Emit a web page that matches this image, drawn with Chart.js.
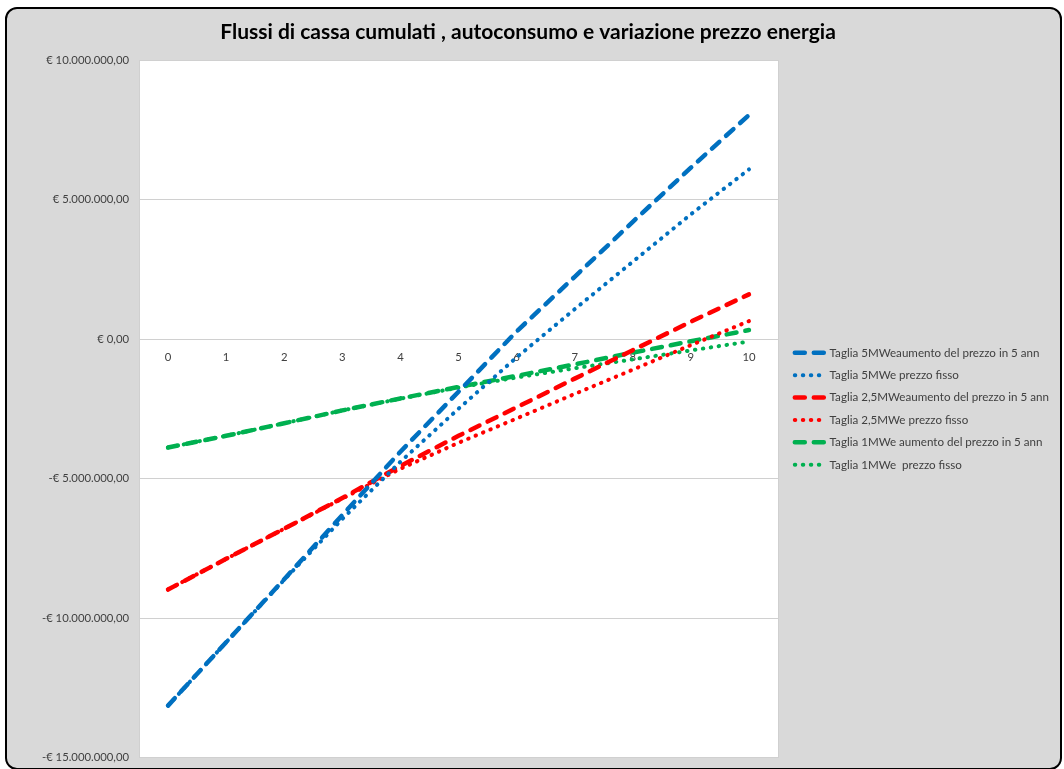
<!DOCTYPE html>
<html lang="it">
<head>
<meta charset="utf-8">
<title>Flussi di cassa cumulati</title>
<script src="https://cdn.jsdelivr.net/npm/chart.js@4/dist/chart.umd.min.js"></script>
<style>
  html, body { margin: 0; padding: 0; background: #ffffff; }
  #frame {
    position: absolute;
    left: 5px;
    top: 7px;
    width: 1053px;
    height: 759px;
    border: 2px solid #000000;
    border-radius: 12px;
    background: #d9d9d9;
    overflow: hidden;
  }
  #chart { display: block; }
</style>
</head>
<body>
<div id="frame"><canvas id="chart" width="1053" height="759"></canvas></div>
<script>
// Anni di esercizio
const anni = ['0', '1', '2', '3', '4', '5', '6', '7', '8', '9', '10'];

// Flussi di cassa cumulati (€)
const taglia5Aumento = [-13140000, -10870000, -8610000, -6310000, -4040000, -1890000, 270000, 2230000, 4200000, 6140000, 8030000];
const taglia5Fisso = [-13140000, -10870000, -8630000, -6450000, -4400000, -2500000, -660000, 1070000, 2770000, 4470000, 6080000];
const taglia25Aumento = [-8980000, -7880000, -6800000, -5700000, -4550000, -3470000, -2450000, -1420000, -400000, 620000, 1600000];
const taglia25Fisso = [-8980000, -7880000, -6800000, -5720000, -4650000, -3720000, -2850000, -1970000, -1100000, -220000, 640000];
const taglia1Aumento = [-3890000, -3470000, -3020000, -2560000, -2130000, -1720000, -1320000, -910000, -490000, -80000, 320000];
const taglia1Fisso = [-3890000, -3470000, -3020000, -2560000, -2140000, -1740000, -1380000, -1050000, -730000, -410000, -90000];

// Etichette dell'asse verticale
const yTickValues = [-15000000, -10000000, -5000000, 0, 5000000, 10000000];
const yTickLabels = ['-€ 15.000.000,00', '-€ 10.000.000,00', '-€ 5.000.000,00', '€ 0,00', '€ 5.000.000,00', '€ 10.000.000,00'];

const BLU = '#0070c0';
const ROSSO = '#ff0000';
const VERDE = '#00b050';
const TRATTEGGIO = [10, 9];
const PUNTINI = [0.5, 7.5];

function serie(label, data, color, dash, width) {
  return {
    label: label,
    data: data,
    borderColor: color,
    backgroundColor: color,
    borderWidth: width,
    borderDash: dash,
    borderCapStyle: 'round',
    pointRadius: 0,
    pointHoverRadius: 0,
    tension: 0,
    fill: false,
    yAxisID: 'y'
  };
}

// Sfondo bianco dell'area del grafico
const areaBianca = {
  id: 'areaBianca',
  beforeDraw(chart) {
    const { ctx, chartArea } = chart;
    ctx.save();
    ctx.fillStyle = '#ffffff';
    ctx.fillRect(chartArea.left, chartArea.top, chartArea.right - chartArea.left, chartArea.bottom - chartArea.top);
    ctx.restore();
  }
};

// Voci di legenda con lo stesso tratto delle linee
function vociLegenda(chart) {
  const voci = Chart.defaults.plugins.legend.labels.generateLabels(chart);
  voci.forEach(v => {
    const ds = chart.data.datasets[v.datasetIndex];
    v.lineDash = ds.borderDash;
    v.lineCap = 'round';
    v.lineWidth = ds.borderWidth;
    v.strokeStyle = ds.borderColor;
    v.fillStyle = ds.borderColor;
  });
  return voci;
}

Chart.defaults.font.family = 'Lato, "Liberation Sans", sans-serif';
Chart.defaults.color = '#404040';

new Chart(document.getElementById('chart'), {
  type: 'line',
  data: {
    labels: anni,
    datasets: [
      serie('Taglia 5MWeaumento del prezzo in 5 ann', taglia5Aumento, BLU, TRATTEGGIO, 4.5),
      serie('Taglia 5MWe prezzo fisso', taglia5Fisso, BLU, PUNTINI, 4),
      serie('Taglia 2,5MWeaumento del prezzo in 5 ann', taglia25Aumento, ROSSO, TRATTEGGIO, 4.5),
      serie('Taglia 2,5MWe prezzo fisso', taglia25Fisso, ROSSO, PUNTINI, 4),
      serie('Taglia 1MWe aumento del prezzo in 5 ann', taglia1Aumento, VERDE, TRATTEGGIO, 4.5),
      serie('Taglia 1MWe  prezzo fisso', taglia1Fisso, VERDE, PUNTINI, 4)
    ]
  },
  options: {
    responsive: false,
    animation: false,
    layout: { padding: { left: 0, right: 11, top: 0, bottom: 10.5 } },
    plugins: {
      title: {
        display: true,
        text: 'Flussi di cassa cumulati , autoconsumo e variazione prezzo energia',
        color: '#000000',
        font: { size: 21, weight: 'bold' },
        padding: { top: 10.8, bottom: 15.0 }
      },
      legend: {
        position: 'right',
        fullSize: false,
        maxWidth: 265,
        labels: {
          usePointStyle: true,
          pointStyle: 'line',
          pointStyleWidth: 29,
          boxHeight: 11,
          padding: 10.8,
          color: '#404040',
          font: { size: 11.6 },
          generateLabels: vociLegenda
        }
      },
      tooltip: { enabled: false }
    },
    scales: {
      x: {
        type: 'category',
        position: { y: 0 },
        offset: true,
        grid: { display: false, drawTicks: false },
        border: { display: true, color: '#d0d0d0', width: 1 },
        ticks: { padding: 12, color: '#404040', font: { size: 11.3 }, maxRotation: 0, autoSkip: false }
      },
      y: {
        type: 'linear',
        position: 'left',
        min: -15000000,
        max: 10000000,
        afterFit(scale) { scale.width = 132; },
        afterBuildTicks(scale) { scale.ticks = yTickValues.map(v => ({ value: v })); },
        grid: { color: '#d0d0d0', lineWidth: 1, drawTicks: true, tickLength: 7, tickColor: 'rgba(0,0,0,0)' },
        border: { display: true, color: '#d0d0d0', width: 1 },
        ticks: {
          padding: 3,
          color: '#404040',
          font: { size: 11.3 },
          callback(value) {
            const i = yTickValues.indexOf(value);
            return i >= 0 ? yTickLabels[i] : '';
          }
        }
      },
      bordoDestro: {
        type: 'linear',
        position: 'right',
        min: 0,
        max: 1,
        afterFit(scale) { scale.width = 6; },
        grid: { display: false, drawTicks: false },
        border: { display: true, color: '#d0d0d0', width: 1 },
        ticks: { display: false }
      }
    }
  },
  plugins: [areaBianca]
});
</script>
</body>
</html>
